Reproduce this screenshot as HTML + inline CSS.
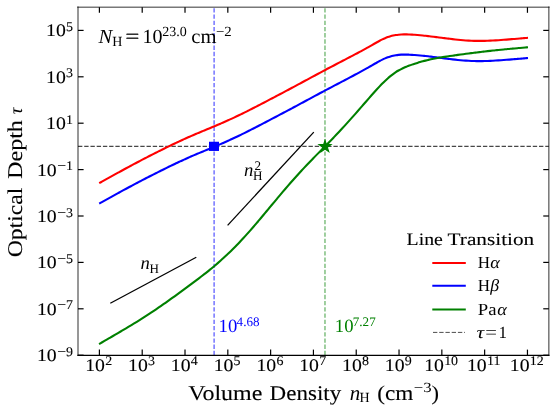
<!DOCTYPE html>
<html><head><meta charset="utf-8"><title>Optical depth</title>
<style>
html,body{margin:0;padding:0;background:#fff;}
body{width:556px;height:413px;overflow:hidden;font-family:"Liberation Serif",serif;}
svg{display:block;position:absolute;left:0;top:0;will-change:transform;text-rendering:geometricPrecision;}
svg text{font-family:"Liberation Serif",serif;fill:#000;}
</style></head><body>
<svg width="556" height="413" viewBox="0 0 556 413">
<rect width="556" height="413" fill="#fff"/>
<line x1="78.00" y1="146.40" x2="548.85" y2="146.40" stroke="#000" stroke-opacity="0.72" stroke-width="1.25" stroke-dasharray="4.35 1.88"/>
<line x1="214.12" y1="355.20" x2="214.12" y2="7.20" stroke="#0000ff" stroke-opacity="0.55" stroke-width="1.5" stroke-dasharray="4.35 1.88"/>
<line x1="324.98" y1="355.20" x2="324.98" y2="7.20" stroke="#008000" stroke-opacity="0.5" stroke-width="1.5" stroke-dasharray="4.35 1.88"/>
<path d="M99.20 183.16 C99.65 182.91 101.00 182.16 101.90 181.66 C102.80 181.16 103.69 180.66 104.59 180.16 C105.49 179.66 106.39 179.16 107.29 178.66 C108.19 178.16 109.09 177.66 109.99 177.16 C110.89 176.67 111.79 176.17 112.68 175.67 C113.58 175.17 114.48 174.68 115.38 174.18 C116.28 173.69 117.18 173.19 118.08 172.70 C118.98 172.21 119.88 171.71 120.77 171.22 C121.67 170.73 122.57 170.24 123.47 169.75 C124.37 169.26 125.27 168.77 126.17 168.29 C127.07 167.80 127.97 167.31 128.87 166.83 C129.76 166.35 130.66 165.86 131.56 165.38 C132.46 164.90 133.36 164.42 134.26 163.94 C135.16 163.46 136.06 162.99 136.96 162.51 C137.85 162.04 138.75 161.56 139.65 161.09 C140.55 160.62 141.45 160.15 142.35 159.68 C143.25 159.21 144.15 158.74 145.05 158.27 C145.95 157.81 146.84 157.34 147.74 156.88 C148.64 156.42 149.54 155.96 150.44 155.50 C151.34 155.04 152.24 154.58 153.14 154.13 C154.04 153.67 154.94 153.22 155.83 152.77 C156.73 152.31 157.63 151.86 158.53 151.42 C159.43 150.97 160.33 150.52 161.23 150.07 C162.13 149.63 163.03 149.18 163.92 148.74 C164.82 148.30 165.72 147.86 166.62 147.42 C167.52 146.98 168.42 146.54 169.32 146.11 C170.22 145.67 171.12 145.24 172.02 144.80 C172.91 144.37 173.81 143.94 174.71 143.51 C175.61 143.08 176.51 142.66 177.41 142.23 C178.31 141.81 179.21 141.39 180.11 140.97 C181.00 140.55 181.90 140.14 182.80 139.73 C183.70 139.31 184.60 138.91 185.50 138.50 C186.40 138.09 187.30 137.69 188.20 137.29 C189.10 136.90 189.99 136.50 190.89 136.11 C191.79 135.72 192.69 135.33 193.59 134.95 C194.49 134.56 195.39 134.18 196.29 133.80 C197.19 133.43 198.08 133.05 198.98 132.67 C199.88 132.30 200.78 131.93 201.68 131.55 C202.58 131.18 203.48 130.81 204.38 130.44 C205.28 130.07 206.18 129.70 207.07 129.33 C207.97 128.96 208.87 128.58 209.77 128.21 C210.67 127.84 211.57 127.47 212.47 127.09 C213.37 126.71 214.27 126.34 215.16 125.96 C216.06 125.58 216.96 125.20 217.86 124.81 C218.76 124.43 219.66 124.04 220.56 123.65 C221.46 123.26 222.36 122.87 223.26 122.48 C224.15 122.08 225.05 121.68 225.95 121.28 C226.85 120.88 227.75 120.48 228.65 120.07 C229.55 119.66 230.45 119.26 231.35 118.84 C232.24 118.43 233.14 118.01 234.04 117.59 C234.94 117.17 235.84 116.75 236.74 116.32 C237.64 115.89 238.54 115.46 239.44 115.03 C240.34 114.59 241.23 114.15 242.13 113.71 C243.03 113.27 243.93 112.83 244.83 112.38 C245.73 111.94 246.63 111.49 247.53 111.04 C248.43 110.59 249.32 110.13 250.22 109.68 C251.12 109.22 252.02 108.76 252.92 108.30 C253.82 107.84 254.72 107.38 255.62 106.92 C256.52 106.46 257.42 105.99 258.31 105.53 C259.21 105.06 260.11 104.60 261.01 104.13 C261.91 103.66 262.81 103.19 263.71 102.72 C264.61 102.25 265.51 101.78 266.41 101.31 C267.30 100.84 268.20 100.37 269.10 99.90 C270.00 99.43 270.90 98.95 271.80 98.48 C272.70 98.01 273.60 97.54 274.50 97.07 C275.39 96.60 276.29 96.12 277.19 95.65 C278.09 95.18 278.99 94.71 279.89 94.23 C280.79 93.76 281.69 93.29 282.59 92.81 C283.49 92.34 284.38 91.86 285.28 91.39 C286.18 90.91 287.08 90.44 287.98 89.96 C288.88 89.48 289.78 89.00 290.68 88.52 C291.58 88.04 292.47 87.56 293.37 87.08 C294.27 86.60 295.17 86.12 296.07 85.63 C296.97 85.15 297.87 84.67 298.77 84.18 C299.67 83.70 300.57 83.21 301.46 82.73 C302.36 82.24 303.26 81.76 304.16 81.27 C305.06 80.79 305.96 80.30 306.86 79.82 C307.76 79.33 308.66 78.84 309.55 78.36 C310.45 77.87 311.35 77.39 312.25 76.91 C313.15 76.42 314.05 75.94 314.95 75.46 C315.85 74.97 316.75 74.49 317.65 74.01 C318.54 73.53 319.44 73.05 320.34 72.57 C321.24 72.09 322.14 71.61 323.04 71.14 C323.94 70.66 324.84 70.18 325.74 69.71 C326.63 69.23 327.53 68.76 328.43 68.29 C329.33 67.81 330.23 67.34 331.13 66.87 C332.03 66.40 332.93 65.93 333.83 65.46 C334.73 64.99 335.62 64.52 336.52 64.05 C337.42 63.59 338.32 63.12 339.22 62.65 C340.12 62.18 341.02 61.71 341.92 61.25 C342.82 60.78 343.71 60.31 344.61 59.84 C345.51 59.37 346.41 58.91 347.31 58.44 C348.21 57.97 349.11 57.50 350.01 57.03 C350.91 56.56 351.81 56.08 352.70 55.61 C353.60 55.14 354.50 54.66 355.40 54.19 C356.30 53.71 357.20 53.23 358.10 52.75 C359.00 52.27 359.90 51.79 360.79 51.30 C361.69 50.82 362.59 50.33 363.49 49.84 C364.39 49.35 365.29 48.85 366.19 48.35 C367.09 47.86 367.99 47.35 368.89 46.85 C369.78 46.34 370.68 45.83 371.58 45.32 C372.48 44.80 373.38 44.28 374.28 43.77 C375.18 43.26 376.08 42.75 376.98 42.25 C377.88 41.75 378.77 41.26 379.67 40.78 C380.57 40.31 381.47 39.84 382.37 39.40 C383.27 38.97 384.17 38.55 385.07 38.17 C385.97 37.78 386.86 37.42 387.76 37.10 C388.66 36.77 389.56 36.48 390.46 36.22 C391.36 35.95 392.26 35.72 393.16 35.52 C394.06 35.33 394.96 35.16 395.85 35.02 C396.75 34.88 397.65 34.77 398.55 34.68 C399.45 34.59 400.35 34.52 401.25 34.48 C402.15 34.43 403.05 34.41 403.94 34.40 C404.84 34.38 405.74 34.39 406.64 34.41 C407.54 34.43 408.44 34.46 409.34 34.49 C410.24 34.53 411.14 34.58 412.04 34.64 C412.93 34.69 413.83 34.76 414.73 34.82 C415.63 34.89 416.53 34.96 417.43 35.04 C418.33 35.12 419.23 35.20 420.13 35.29 C421.02 35.37 421.92 35.46 422.82 35.55 C423.72 35.64 424.62 35.74 425.52 35.83 C426.42 35.93 427.32 36.03 428.22 36.13 C429.12 36.23 430.01 36.34 430.91 36.45 C431.81 36.55 432.71 36.66 433.61 36.77 C434.51 36.88 435.41 36.99 436.31 37.11 C437.21 37.22 438.10 37.34 439.00 37.45 C439.90 37.56 440.80 37.68 441.70 37.80 C442.60 37.91 443.50 38.03 444.40 38.14 C445.30 38.26 446.20 38.37 447.09 38.49 C447.99 38.60 448.89 38.71 449.79 38.82 C450.69 38.93 451.59 39.04 452.49 39.15 C453.39 39.25 454.29 39.35 455.18 39.45 C456.08 39.55 456.98 39.65 457.88 39.74 C458.78 39.83 459.68 39.92 460.58 40.00 C461.48 40.08 462.38 40.16 463.28 40.24 C464.17 40.31 465.07 40.38 465.97 40.44 C466.87 40.50 467.77 40.56 468.67 40.61 C469.57 40.66 470.47 40.70 471.37 40.74 C472.26 40.78 473.16 40.81 474.06 40.84 C474.96 40.86 475.86 40.88 476.76 40.89 C477.66 40.91 478.56 40.91 479.46 40.91 C480.36 40.91 481.25 40.91 482.15 40.89 C483.05 40.88 483.95 40.87 484.85 40.84 C485.75 40.82 486.65 40.79 487.55 40.76 C488.45 40.73 489.35 40.69 490.24 40.65 C491.14 40.61 492.04 40.56 492.94 40.51 C493.84 40.46 494.74 40.41 495.64 40.36 C496.54 40.30 497.44 40.24 498.33 40.18 C499.23 40.12 500.13 40.06 501.03 40.00 C501.93 39.93 502.83 39.86 503.73 39.80 C504.63 39.73 505.53 39.66 506.43 39.59 C507.32 39.52 508.22 39.45 509.12 39.38 C510.02 39.30 510.92 39.23 511.82 39.16 C512.72 39.09 513.62 39.01 514.52 38.94 C515.41 38.87 516.31 38.79 517.21 38.72 C518.11 38.64 519.01 38.57 519.91 38.50 C520.81 38.42 521.71 38.35 522.61 38.27 C523.51 38.20 524.40 38.12 525.30 38.05 C526.20 37.97 527.55 37.86 528.00 37.82" fill="none" stroke="#ff0000" stroke-width="2.1" stroke-linecap="butt" stroke-linejoin="round"/>
<path d="M99.20 203.61 C99.65 203.36 101.00 202.61 101.90 202.11 C102.80 201.61 103.69 201.11 104.59 200.61 C105.49 200.11 106.39 199.61 107.29 199.11 C108.19 198.61 109.09 198.11 109.99 197.61 C110.89 197.12 111.79 196.62 112.68 196.12 C113.58 195.62 114.48 195.13 115.38 194.63 C116.28 194.14 117.18 193.64 118.08 193.15 C118.98 192.66 119.88 192.16 120.77 191.67 C121.67 191.18 122.57 190.69 123.47 190.20 C124.37 189.71 125.27 189.22 126.17 188.74 C127.07 188.25 127.97 187.76 128.87 187.28 C129.76 186.80 130.66 186.31 131.56 185.83 C132.46 185.35 133.36 184.87 134.26 184.39 C135.16 183.91 136.06 183.44 136.96 182.96 C137.85 182.49 138.75 182.01 139.65 181.54 C140.55 181.07 141.45 180.60 142.35 180.13 C143.25 179.66 144.15 179.19 145.05 178.72 C145.95 178.26 146.84 177.79 147.74 177.33 C148.64 176.87 149.54 176.41 150.44 175.95 C151.34 175.49 152.24 175.03 153.14 174.58 C154.04 174.12 154.94 173.67 155.83 173.22 C156.73 172.76 157.63 172.31 158.53 171.87 C159.43 171.42 160.33 170.97 161.23 170.52 C162.13 170.08 163.03 169.63 163.92 169.19 C164.82 168.75 165.72 168.31 166.62 167.87 C167.52 167.43 168.42 166.99 169.32 166.56 C170.22 166.12 171.12 165.69 172.02 165.25 C172.91 164.82 173.81 164.39 174.71 163.96 C175.61 163.53 176.51 163.11 177.41 162.68 C178.31 162.26 179.21 161.84 180.11 161.42 C181.00 161.00 181.90 160.59 182.80 160.18 C183.70 159.76 184.60 159.36 185.50 158.95 C186.40 158.54 187.30 158.14 188.20 157.74 C189.10 157.35 189.99 156.95 190.89 156.56 C191.79 156.17 192.69 155.78 193.59 155.40 C194.49 155.01 195.39 154.63 196.29 154.25 C197.19 153.88 198.08 153.50 198.98 153.12 C199.88 152.75 200.78 152.38 201.68 152.00 C202.58 151.63 203.48 151.26 204.38 150.89 C205.28 150.52 206.18 150.15 207.07 149.78 C207.97 149.41 208.87 149.03 209.77 148.66 C210.67 148.29 211.57 147.92 212.47 147.54 C213.37 147.16 214.27 146.79 215.16 146.41 C216.06 146.03 216.96 145.65 217.86 145.26 C218.76 144.88 219.66 144.49 220.56 144.10 C221.46 143.71 222.36 143.32 223.26 142.93 C224.15 142.53 225.05 142.13 225.95 141.73 C226.85 141.33 227.75 140.93 228.65 140.52 C229.55 140.11 230.45 139.71 231.35 139.29 C232.24 138.88 233.14 138.46 234.04 138.04 C234.94 137.62 235.84 137.20 236.74 136.77 C237.64 136.34 238.54 135.91 239.44 135.48 C240.34 135.04 241.23 134.60 242.13 134.16 C243.03 133.72 243.93 133.28 244.83 132.83 C245.73 132.39 246.63 131.94 247.53 131.49 C248.43 131.04 249.32 130.58 250.22 130.13 C251.12 129.67 252.02 129.21 252.92 128.75 C253.82 128.29 254.72 127.83 255.62 127.37 C256.52 126.91 257.42 126.44 258.31 125.98 C259.21 125.51 260.11 125.05 261.01 124.58 C261.91 124.11 262.81 123.64 263.71 123.17 C264.61 122.70 265.51 122.23 266.41 121.76 C267.30 121.29 268.20 120.82 269.10 120.35 C270.00 119.88 270.90 119.40 271.80 118.93 C272.70 118.46 273.60 117.99 274.50 117.52 C275.39 117.05 276.29 116.57 277.19 116.10 C278.09 115.63 278.99 115.16 279.89 114.68 C280.79 114.21 281.69 113.74 282.59 113.26 C283.49 112.79 284.38 112.31 285.28 111.84 C286.18 111.36 287.08 110.89 287.98 110.41 C288.88 109.93 289.78 109.45 290.68 108.97 C291.58 108.50 292.47 108.01 293.37 107.53 C294.27 107.05 295.17 106.57 296.07 106.09 C296.97 105.60 297.87 105.12 298.77 104.64 C299.67 104.15 300.57 103.67 301.46 103.18 C302.36 102.70 303.26 102.21 304.16 101.73 C305.06 101.24 305.96 100.76 306.86 100.27 C307.76 99.79 308.66 99.30 309.55 98.82 C310.45 98.33 311.35 97.85 312.25 97.36 C313.15 96.88 314.05 96.39 314.95 95.91 C315.85 95.43 316.75 94.95 317.65 94.47 C318.54 93.99 319.44 93.51 320.34 93.03 C321.24 92.55 322.14 92.07 323.04 91.59 C323.94 91.11 324.84 90.64 325.74 90.16 C326.63 89.69 327.53 89.21 328.43 88.74 C329.33 88.26 330.23 87.79 331.13 87.32 C332.03 86.85 332.93 86.38 333.83 85.90 C334.73 85.43 335.62 84.96 336.52 84.49 C337.42 84.02 338.32 83.55 339.22 83.08 C340.12 82.61 341.02 82.14 341.92 81.67 C342.82 81.19 343.71 80.72 344.61 80.25 C345.51 79.78 346.41 79.31 347.31 78.83 C348.21 78.36 349.11 77.88 350.01 77.41 C350.91 76.93 351.81 76.46 352.70 75.98 C353.60 75.50 354.50 75.02 355.40 74.54 C356.30 74.05 357.20 73.57 358.10 73.08 C359.00 72.60 359.90 72.11 360.79 71.62 C361.69 71.13 362.59 70.64 363.49 70.14 C364.39 69.64 365.29 69.14 366.19 68.64 C367.09 68.13 367.99 67.63 368.89 67.11 C369.78 66.60 370.68 66.08 371.58 65.57 C372.48 65.05 373.38 64.53 374.28 64.01 C375.18 63.50 376.08 62.98 376.98 62.48 C377.88 61.97 378.77 61.47 379.67 61.00 C380.57 60.52 381.47 60.05 382.37 59.61 C383.27 59.17 384.17 58.75 385.07 58.37 C385.97 57.98 386.86 57.62 387.76 57.30 C388.66 56.97 389.56 56.68 390.46 56.41 C391.36 56.15 392.26 55.92 393.16 55.72 C394.06 55.52 394.96 55.36 395.85 55.22 C396.75 55.07 397.65 54.96 398.55 54.87 C399.45 54.78 400.35 54.72 401.25 54.67 C402.15 54.63 403.05 54.61 403.94 54.59 C404.84 54.58 405.74 54.59 406.64 54.61 C407.54 54.63 408.44 54.66 409.34 54.69 C410.24 54.73 411.14 54.78 412.04 54.84 C412.93 54.89 413.83 54.96 414.73 55.02 C415.63 55.09 416.53 55.16 417.43 55.24 C418.33 55.32 419.23 55.40 420.13 55.49 C421.02 55.57 421.92 55.66 422.82 55.75 C423.72 55.84 424.62 55.94 425.52 56.03 C426.42 56.13 427.32 56.23 428.22 56.33 C429.12 56.43 430.01 56.54 430.91 56.65 C431.81 56.75 432.71 56.86 433.61 56.97 C434.51 57.08 435.41 57.19 436.31 57.31 C437.21 57.42 438.10 57.54 439.00 57.65 C439.90 57.76 440.80 57.88 441.70 58.00 C442.60 58.11 443.50 58.23 444.40 58.34 C445.30 58.46 446.20 58.57 447.09 58.69 C447.99 58.80 448.89 58.91 449.79 59.02 C450.69 59.13 451.59 59.24 452.49 59.35 C453.39 59.45 454.29 59.55 455.18 59.65 C456.08 59.75 456.98 59.85 457.88 59.94 C458.78 60.03 459.68 60.12 460.58 60.20 C461.48 60.28 462.38 60.36 463.28 60.44 C464.17 60.51 465.07 60.58 465.97 60.64 C466.87 60.70 467.77 60.76 468.67 60.81 C469.57 60.86 470.47 60.90 471.37 60.94 C472.26 60.98 473.16 61.01 474.06 61.04 C474.96 61.06 475.86 61.08 476.76 61.09 C477.66 61.11 478.56 61.11 479.46 61.11 C480.36 61.11 481.25 61.11 482.15 61.09 C483.05 61.08 483.95 61.07 484.85 61.04 C485.75 61.02 486.65 60.99 487.55 60.96 C488.45 60.93 489.35 60.89 490.24 60.85 C491.14 60.81 492.04 60.76 492.94 60.71 C493.84 60.66 494.74 60.61 495.64 60.56 C496.54 60.50 497.44 60.44 498.33 60.38 C499.23 60.32 500.13 60.26 501.03 60.20 C501.93 60.13 502.83 60.06 503.73 60.00 C504.63 59.93 505.53 59.86 506.43 59.79 C507.32 59.72 508.22 59.65 509.12 59.58 C510.02 59.50 510.92 59.43 511.82 59.36 C512.72 59.29 513.62 59.21 514.52 59.14 C515.41 59.07 516.31 58.99 517.21 58.92 C518.11 58.84 519.01 58.77 519.91 58.70 C520.81 58.62 521.71 58.55 522.61 58.47 C523.51 58.40 524.40 58.32 525.30 58.25 C526.20 58.17 527.55 58.06 528.00 58.02" fill="none" stroke="#0000ff" stroke-width="2.1" stroke-linecap="butt" stroke-linejoin="round"/>
<path d="M99.07 344.04 C99.52 343.78 100.87 343.01 101.77 342.49 C102.67 341.97 103.57 341.45 104.47 340.93 C105.36 340.41 106.26 339.89 107.16 339.37 C108.06 338.85 108.96 338.33 109.86 337.81 C110.76 337.29 111.66 336.77 112.56 336.24 C113.46 335.72 114.36 335.20 115.26 334.67 C116.16 334.15 117.05 333.62 117.95 333.10 C118.85 332.57 119.75 332.04 120.65 331.51 C121.55 330.98 122.45 330.45 123.35 329.92 C124.25 329.39 125.15 328.85 126.05 328.32 C126.95 327.78 127.85 327.24 128.74 326.70 C129.64 326.16 130.54 325.62 131.44 325.07 C132.34 324.53 133.24 323.98 134.14 323.43 C135.04 322.88 135.94 322.32 136.84 321.77 C137.74 321.21 138.64 320.65 139.54 320.09 C140.43 319.52 141.33 318.95 142.23 318.38 C143.13 317.81 144.03 317.24 144.93 316.66 C145.83 316.08 146.73 315.50 147.63 314.91 C148.53 314.33 149.43 313.74 150.33 313.14 C151.23 312.55 152.12 311.95 153.02 311.35 C153.92 310.75 154.82 310.15 155.72 309.54 C156.62 308.93 157.52 308.32 158.42 307.70 C159.32 307.08 160.22 306.46 161.12 305.84 C162.02 305.22 162.91 304.59 163.81 303.96 C164.71 303.33 165.61 302.70 166.51 302.07 C167.41 301.43 168.31 300.79 169.21 300.15 C170.11 299.51 171.01 298.87 171.91 298.22 C172.81 297.58 173.71 296.93 174.60 296.28 C175.50 295.63 176.40 294.98 177.30 294.32 C178.20 293.67 179.10 293.01 180.00 292.35 C180.90 291.70 181.80 291.04 182.70 290.37 C183.60 289.71 184.50 289.05 185.40 288.39 C186.29 287.72 187.19 287.06 188.09 286.39 C188.99 285.72 189.89 285.06 190.79 284.39 C191.69 283.72 192.59 283.05 193.49 282.37 C194.39 281.70 195.29 281.03 196.19 280.35 C197.09 279.67 197.98 278.99 198.88 278.31 C199.78 277.63 200.68 276.94 201.58 276.25 C202.48 275.56 203.38 274.87 204.28 274.17 C205.18 273.48 206.08 272.77 206.98 272.06 C207.88 271.35 208.78 270.64 209.67 269.91 C210.57 269.19 211.47 268.46 212.37 267.71 C213.27 266.97 214.17 266.22 215.07 265.46 C215.97 264.70 216.87 263.93 217.77 263.15 C218.67 262.37 219.57 261.58 220.47 260.78 C221.36 259.98 222.26 259.17 223.16 258.34 C224.06 257.52 224.96 256.69 225.86 255.85 C226.76 255.01 227.66 254.15 228.56 253.29 C229.46 252.43 230.36 251.55 231.26 250.67 C232.16 249.78 233.05 248.89 233.95 247.98 C234.85 247.08 235.75 246.16 236.65 245.23 C237.55 244.31 238.45 243.37 239.35 242.42 C240.25 241.47 241.15 240.51 242.05 239.55 C242.95 238.58 243.85 237.60 244.74 236.62 C245.64 235.63 246.54 234.63 247.44 233.63 C248.34 232.62 249.24 231.61 250.14 230.59 C251.04 229.57 251.94 228.54 252.84 227.50 C253.74 226.46 254.64 225.41 255.54 224.36 C256.43 223.31 257.33 222.25 258.23 221.19 C259.13 220.12 260.03 219.05 260.93 217.98 C261.83 216.91 262.73 215.84 263.63 214.76 C264.53 213.68 265.43 212.60 266.33 211.52 C267.22 210.44 268.12 209.36 269.02 208.28 C269.92 207.20 270.82 206.11 271.72 205.03 C272.62 203.95 273.52 202.87 274.42 201.80 C275.32 200.72 276.22 199.64 277.12 198.57 C278.02 197.50 278.91 196.42 279.81 195.36 C280.71 194.29 281.61 193.23 282.51 192.17 C283.41 191.11 284.31 190.05 285.21 189.01 C286.11 187.96 287.01 186.91 287.91 185.88 C288.81 184.84 289.71 183.81 290.60 182.78 C291.50 181.76 292.40 180.74 293.30 179.73 C294.20 178.71 295.10 177.71 296.00 176.71 C296.90 175.71 297.80 174.71 298.70 173.73 C299.60 172.74 300.50 171.76 301.40 170.78 C302.29 169.81 303.19 168.84 304.09 167.88 C304.99 166.92 305.89 165.97 306.79 165.02 C307.69 164.07 308.59 163.13 309.49 162.20 C310.39 161.26 311.29 160.33 312.19 159.40 C313.09 158.48 313.98 157.55 314.88 156.63 C315.78 155.71 316.68 154.79 317.58 153.88 C318.48 152.96 319.38 152.05 320.28 151.14 C321.18 150.22 322.08 149.31 322.98 148.40 C323.88 147.49 324.78 146.58 325.67 145.67 C326.57 144.75 327.47 143.84 328.37 142.92 C329.27 142.01 330.17 141.09 331.07 140.16 C331.97 139.24 332.87 138.31 333.77 137.38 C334.67 136.44 335.57 135.50 336.47 134.56 C337.36 133.61 338.26 132.66 339.16 131.70 C340.06 130.74 340.96 129.78 341.86 128.80 C342.76 127.83 343.66 126.86 344.56 125.87 C345.46 124.89 346.36 123.90 347.26 122.90 C348.16 121.91 349.05 120.91 349.95 119.90 C350.85 118.90 351.75 117.89 352.65 116.88 C353.55 115.86 354.45 114.84 355.35 113.82 C356.25 112.80 357.15 111.78 358.05 110.75 C358.95 109.72 359.85 108.69 360.74 107.66 C361.64 106.62 362.54 105.59 363.44 104.55 C364.34 103.51 365.24 102.47 366.14 101.44 C367.04 100.40 367.94 99.36 368.84 98.33 C369.74 97.30 370.64 96.27 371.53 95.25 C372.43 94.23 373.33 93.21 374.23 92.21 C375.13 91.21 376.03 90.22 376.93 89.24 C377.83 88.27 378.73 87.31 379.63 86.36 C380.53 85.42 381.43 84.49 382.33 83.59 C383.22 82.69 384.12 81.80 385.02 80.95 C385.92 80.09 386.82 79.26 387.72 78.46 C388.62 77.66 389.52 76.88 390.42 76.15 C391.32 75.42 392.22 74.72 393.12 74.05 C394.02 73.39 394.91 72.77 395.81 72.18 C396.71 71.59 397.61 71.05 398.51 70.53 C399.41 70.01 400.31 69.53 401.21 69.07 C402.11 68.61 403.01 68.19 403.91 67.78 C404.81 67.37 405.71 67.00 406.60 66.63 C407.50 66.27 408.40 65.92 409.30 65.59 C410.20 65.26 411.10 64.94 412.00 64.63 C412.90 64.32 413.80 64.02 414.70 63.73 C415.60 63.44 416.50 63.16 417.40 62.88 C418.29 62.61 419.19 62.34 420.09 62.09 C420.99 61.83 421.89 61.57 422.79 61.33 C423.69 61.08 424.59 60.84 425.49 60.62 C426.39 60.39 427.29 60.16 428.19 59.95 C429.09 59.74 429.98 59.53 430.88 59.34 C431.78 59.14 432.68 58.95 433.58 58.77 C434.48 58.59 435.38 58.42 436.28 58.25 C437.18 58.08 438.08 57.92 438.98 57.76 C439.88 57.61 440.78 57.46 441.67 57.31 C442.57 57.16 443.47 57.02 444.37 56.88 C445.27 56.73 446.17 56.60 447.07 56.46 C447.97 56.33 448.87 56.19 449.77 56.06 C450.67 55.93 451.57 55.80 452.47 55.67 C453.36 55.54 454.26 55.41 455.16 55.29 C456.06 55.16 456.96 55.04 457.86 54.91 C458.76 54.79 459.66 54.67 460.56 54.54 C461.46 54.42 462.36 54.30 463.26 54.18 C464.16 54.06 465.05 53.94 465.95 53.82 C466.85 53.70 467.75 53.58 468.65 53.46 C469.55 53.35 470.45 53.23 471.35 53.11 C472.25 53.00 473.15 52.88 474.05 52.77 C474.95 52.66 475.84 52.54 476.74 52.43 C477.64 52.32 478.54 52.21 479.44 52.10 C480.34 51.99 481.24 51.89 482.14 51.78 C483.04 51.67 483.94 51.57 484.84 51.46 C485.74 51.36 486.64 51.26 487.53 51.16 C488.43 51.06 489.33 50.96 490.23 50.86 C491.13 50.76 492.03 50.66 492.93 50.56 C493.83 50.47 494.73 50.37 495.63 50.28 C496.53 50.18 497.43 50.09 498.33 49.99 C499.22 49.90 500.12 49.81 501.02 49.72 C501.92 49.63 502.82 49.54 503.72 49.45 C504.62 49.36 505.52 49.28 506.42 49.19 C507.32 49.10 508.22 49.02 509.12 48.93 C510.02 48.85 510.91 48.76 511.81 48.68 C512.71 48.60 513.61 48.52 514.51 48.43 C515.41 48.35 516.31 48.27 517.21 48.19 C518.11 48.11 519.01 48.03 519.91 47.95 C520.81 47.87 521.71 47.79 522.60 47.72 C523.50 47.64 524.40 47.56 525.30 47.48 C526.20 47.40 527.55 47.29 528.00 47.25" fill="none" stroke="#008000" stroke-width="2.1" stroke-linecap="butt" stroke-linejoin="round"/>
<line x1="110.30" y1="303.20" x2="196.30" y2="257.30" stroke="#000" stroke-width="1.3"/>
<line x1="227.60" y1="225.40" x2="313.80" y2="132.10" stroke="#000" stroke-width="1.3"/>
<rect x="209.0" y="141.75" width="10.0" height="9.2" fill="#0000ff"/>
<polygon points="325.03,140.30 326.47,144.62 331.02,144.65 327.36,147.36 328.74,151.70 325.03,149.05 321.33,151.70 322.70,147.36 319.04,144.65 323.59,144.62" fill="#008000" stroke="#008000" stroke-width="1.1" stroke-linejoin="miter"/>
<line x1="78.00" y1="6.42" x2="78.00" y2="355.20" stroke="#000" stroke-opacity="0.53" stroke-width="1.55"/>
<line x1="548.80" y1="6.42" x2="548.80" y2="355.20" stroke="#000" stroke-opacity="0.53" stroke-width="1.55"/>
<line x1="77.22" y1="7.20" x2="549.58" y2="7.20" stroke="#000" stroke-opacity="0.53" stroke-width="1.55"/>
<line x1="77.25" y1="355.30" x2="549.60" y2="355.30" stroke="#000" stroke-width="1.2"/>
<line x1="99.40" y1="355.20" x2="99.40" y2="349.60" stroke="#000" stroke-width="1.2"/>
<line x1="99.40" y1="7.20" x2="99.40" y2="12.80" stroke="#000" stroke-width="1.2"/>
<line x1="142.21" y1="355.20" x2="142.21" y2="349.60" stroke="#000" stroke-width="1.2"/>
<line x1="142.21" y1="7.20" x2="142.21" y2="12.80" stroke="#000" stroke-width="1.2"/>
<line x1="185.01" y1="355.20" x2="185.01" y2="349.60" stroke="#000" stroke-width="1.2"/>
<line x1="185.01" y1="7.20" x2="185.01" y2="12.80" stroke="#000" stroke-width="1.2"/>
<line x1="227.82" y1="355.20" x2="227.82" y2="349.60" stroke="#000" stroke-width="1.2"/>
<line x1="227.82" y1="7.20" x2="227.82" y2="12.80" stroke="#000" stroke-width="1.2"/>
<line x1="270.62" y1="355.20" x2="270.62" y2="349.60" stroke="#000" stroke-width="1.2"/>
<line x1="270.62" y1="7.20" x2="270.62" y2="12.80" stroke="#000" stroke-width="1.2"/>
<line x1="313.43" y1="355.20" x2="313.43" y2="349.60" stroke="#000" stroke-width="1.2"/>
<line x1="313.43" y1="7.20" x2="313.43" y2="12.80" stroke="#000" stroke-width="1.2"/>
<line x1="356.23" y1="355.20" x2="356.23" y2="349.60" stroke="#000" stroke-width="1.2"/>
<line x1="356.23" y1="7.20" x2="356.23" y2="12.80" stroke="#000" stroke-width="1.2"/>
<line x1="399.03" y1="355.20" x2="399.03" y2="349.60" stroke="#000" stroke-width="1.2"/>
<line x1="399.03" y1="7.20" x2="399.03" y2="12.80" stroke="#000" stroke-width="1.2"/>
<line x1="441.84" y1="355.20" x2="441.84" y2="349.60" stroke="#000" stroke-width="1.2"/>
<line x1="441.84" y1="7.20" x2="441.84" y2="12.80" stroke="#000" stroke-width="1.2"/>
<line x1="484.64" y1="355.20" x2="484.64" y2="349.60" stroke="#000" stroke-width="1.2"/>
<line x1="484.64" y1="7.20" x2="484.64" y2="12.80" stroke="#000" stroke-width="1.2"/>
<line x1="527.45" y1="355.20" x2="527.45" y2="349.60" stroke="#000" stroke-width="1.2"/>
<line x1="527.45" y1="7.20" x2="527.45" y2="12.80" stroke="#000" stroke-width="1.2"/>
<line x1="78.00" y1="355.20" x2="83.60" y2="355.20" stroke="#000" stroke-width="1.2"/>
<line x1="548.85" y1="355.20" x2="543.25" y2="355.20" stroke="#000" stroke-width="1.2"/>
<line x1="78.00" y1="308.80" x2="83.60" y2="308.80" stroke="#000" stroke-width="1.2"/>
<line x1="548.85" y1="308.80" x2="543.25" y2="308.80" stroke="#000" stroke-width="1.2"/>
<line x1="78.00" y1="262.40" x2="83.60" y2="262.40" stroke="#000" stroke-width="1.2"/>
<line x1="548.85" y1="262.40" x2="543.25" y2="262.40" stroke="#000" stroke-width="1.2"/>
<line x1="78.00" y1="216.00" x2="83.60" y2="216.00" stroke="#000" stroke-width="1.2"/>
<line x1="548.85" y1="216.00" x2="543.25" y2="216.00" stroke="#000" stroke-width="1.2"/>
<line x1="78.00" y1="169.60" x2="83.60" y2="169.60" stroke="#000" stroke-width="1.2"/>
<line x1="548.85" y1="169.60" x2="543.25" y2="169.60" stroke="#000" stroke-width="1.2"/>
<line x1="78.00" y1="123.20" x2="83.60" y2="123.20" stroke="#000" stroke-width="1.2"/>
<line x1="548.85" y1="123.20" x2="543.25" y2="123.20" stroke="#000" stroke-width="1.2"/>
<line x1="78.00" y1="76.80" x2="83.60" y2="76.80" stroke="#000" stroke-width="1.2"/>
<line x1="548.85" y1="76.80" x2="543.25" y2="76.80" stroke="#000" stroke-width="1.2"/>
<line x1="78.00" y1="30.40" x2="83.60" y2="30.40" stroke="#000" stroke-width="1.2"/>
<line x1="548.85" y1="30.40" x2="543.25" y2="30.40" stroke="#000" stroke-width="1.2"/>
<text transform="translate(85.23 370.60) scale(1.110 1.000)" font-size="17.80" stroke="#000" stroke-width="0.10">10</text><text transform="translate(105.19 365.10) scale(1.050 1.000)" font-size="13.30" stroke="#000" stroke-width="0.10">2</text>
<text transform="translate(128.04 370.60) scale(1.110 1.000)" font-size="17.80" stroke="#000" stroke-width="0.10">10</text><text transform="translate(147.99 365.10) scale(1.050 1.000)" font-size="13.30" stroke="#000" stroke-width="0.10">3</text>
<text transform="translate(170.84 370.60) scale(1.110 1.000)" font-size="17.80" stroke="#000" stroke-width="0.10">10</text><text transform="translate(190.80 365.10) scale(1.050 1.000)" font-size="13.30" stroke="#000" stroke-width="0.10">4</text>
<text transform="translate(213.65 370.60) scale(1.110 1.000)" font-size="17.80" stroke="#000" stroke-width="0.10">10</text><text transform="translate(233.60 365.10) scale(1.050 1.000)" font-size="13.30" stroke="#000" stroke-width="0.10">5</text>
<text transform="translate(256.45 370.60) scale(1.110 1.000)" font-size="17.80" stroke="#000" stroke-width="0.10">10</text><text transform="translate(276.41 365.10) scale(1.050 1.000)" font-size="13.30" stroke="#000" stroke-width="0.10">6</text>
<text transform="translate(299.25 370.60) scale(1.110 1.000)" font-size="17.80" stroke="#000" stroke-width="0.10">10</text><text transform="translate(319.21 365.10) scale(1.050 1.000)" font-size="13.30" stroke="#000" stroke-width="0.10">7</text>
<text transform="translate(342.06 370.60) scale(1.110 1.000)" font-size="17.80" stroke="#000" stroke-width="0.10">10</text><text transform="translate(362.02 365.10) scale(1.050 1.000)" font-size="13.30" stroke="#000" stroke-width="0.10">8</text>
<text transform="translate(384.86 370.60) scale(1.110 1.000)" font-size="17.80" stroke="#000" stroke-width="0.10">10</text><text transform="translate(404.82 365.10) scale(1.050 1.000)" font-size="13.30" stroke="#000" stroke-width="0.10">9</text>
<text transform="translate(424.18 370.60) scale(1.110 1.000)" font-size="17.80" stroke="#000" stroke-width="0.10">10</text><text transform="translate(444.14 365.10) scale(1.050 1.000)" font-size="13.30" stroke="#000" stroke-width="0.10">10</text>
<text transform="translate(466.98 370.60) scale(1.110 1.000)" font-size="17.80" stroke="#000" stroke-width="0.10">10</text><text transform="translate(486.94 365.10) scale(1.050 1.000)" font-size="13.30" stroke="#000" stroke-width="0.10">11</text>
<text transform="translate(509.79 370.60) scale(1.110 1.000)" font-size="17.80" stroke="#000" stroke-width="0.10">10</text><text transform="translate(529.74 365.10) scale(1.050 1.000)" font-size="13.30" stroke="#000" stroke-width="0.10">12</text>
<text transform="translate(36.91 361.20) scale(1.110 1.000)" font-size="17.80" stroke="#000" stroke-width="0.10">10</text><text transform="translate(57.17 355.70) scale(1.180 1.000)" font-size="13.30" stroke="#000" stroke-width="0.10">−</text><text transform="translate(66.02 355.70) scale(1.050 1.000)" font-size="13.30" stroke="#000" stroke-width="0.10">9</text>
<text transform="translate(36.91 314.80) scale(1.110 1.000)" font-size="17.80" stroke="#000" stroke-width="0.10">10</text><text transform="translate(57.17 309.30) scale(1.180 1.000)" font-size="13.30" stroke="#000" stroke-width="0.10">−</text><text transform="translate(66.02 309.30) scale(1.050 1.000)" font-size="13.30" stroke="#000" stroke-width="0.10">7</text>
<text transform="translate(36.91 268.40) scale(1.110 1.000)" font-size="17.80" stroke="#000" stroke-width="0.10">10</text><text transform="translate(57.17 262.90) scale(1.180 1.000)" font-size="13.30" stroke="#000" stroke-width="0.10">−</text><text transform="translate(66.02 262.90) scale(1.050 1.000)" font-size="13.30" stroke="#000" stroke-width="0.10">5</text>
<text transform="translate(36.91 222.00) scale(1.110 1.000)" font-size="17.80" stroke="#000" stroke-width="0.10">10</text><text transform="translate(57.17 216.50) scale(1.180 1.000)" font-size="13.30" stroke="#000" stroke-width="0.10">−</text><text transform="translate(66.02 216.50) scale(1.050 1.000)" font-size="13.30" stroke="#000" stroke-width="0.10">3</text>
<text transform="translate(36.91 175.60) scale(1.110 1.000)" font-size="17.80" stroke="#000" stroke-width="0.10">10</text><text transform="translate(57.17 170.10) scale(1.180 1.000)" font-size="13.30" stroke="#000" stroke-width="0.10">−</text><text transform="translate(66.02 170.10) scale(1.050 1.000)" font-size="13.30" stroke="#000" stroke-width="0.10">1</text>
<text transform="translate(46.06 129.20) scale(1.110 1.000)" font-size="17.80" stroke="#000" stroke-width="0.10">10</text><text transform="translate(66.02 123.70) scale(1.050 1.000)" font-size="13.30" stroke="#000" stroke-width="0.10">1</text>
<text transform="translate(46.06 82.80) scale(1.110 1.000)" font-size="17.80" stroke="#000" stroke-width="0.10">10</text><text transform="translate(66.02 77.30) scale(1.050 1.000)" font-size="13.30" stroke="#000" stroke-width="0.10">3</text>
<text transform="translate(46.06 36.40) scale(1.110 1.000)" font-size="17.80" stroke="#000" stroke-width="0.10">10</text><text transform="translate(66.02 30.90) scale(1.050 1.000)" font-size="13.30" stroke="#000" stroke-width="0.10">5</text>
<text transform="translate(188.20 400.20) scale(1.143 1.000)" font-size="21.00" stroke="#000" stroke-width="0.10">Volume</text>
<text transform="translate(269.60 400.20) scale(1.096 1.000)" font-size="21.00" stroke="#000" stroke-width="0.10">Density</text>
<text transform="translate(349.80 400.20)" font-size="21.00" font-style="italic">n</text>
<text transform="translate(359.50 402.30)" font-size="14.00">H</text>
<text transform="translate(377.30 400.20) scale(1.105 1.000)" font-size="21.00" stroke="#000" stroke-width="0.10">(cm</text>
<text transform="translate(413.80 392.20) scale(1.200 1.000)" font-size="14.00">−3</text>
<text transform="translate(431.60 400.20) scale(1.070 1.000)" font-size="21.00" stroke="#000" stroke-width="0.10">)</text>
<text transform="translate(22.00 257.30) rotate(-90) scale(1.126 1.000)" font-size="21.00" stroke="#000" stroke-width="0.10">Optical</text>
<text transform="translate(22.00 178.90) rotate(-90) scale(1.145 1.000)" font-size="21.00" stroke="#000" stroke-width="0.10">Depth</text>
<text transform="translate(22.00 114.20) rotate(-90)" font-size="18.70" font-style="italic">τ</text>
<text transform="translate(98.60 43.30) scale(1.030 1.000)" font-size="20.00" font-style="italic">N</text>
<text transform="translate(112.20 45.90)" font-size="14.00">H</text>
<text transform="translate(125.40 43.30) scale(1.220 1.000)" font-size="20.00" stroke="#000" stroke-width="0.35">=</text>
<text transform="translate(142.40 43.30)" font-size="20.00">10</text>
<text transform="translate(162.20 36.10)" font-size="14.00">23.0</text>
<text transform="translate(191.30 43.30) scale(1.030 1.000)" font-size="20.00">cm</text>
<text transform="translate(216.00 36.10) scale(1.060 1.000)" font-size="14.00">−2</text>
<text transform="translate(218.60 332.20)" font-size="18.67" style="fill:#0000ff">10</text>
<text transform="translate(236.60 325.80)" font-size="13.10" style="fill:#0000ff">4.68</text>
<text transform="translate(334.80 332.20)" font-size="18.67" style="fill:#008000">10</text>
<text transform="translate(352.80 325.80)" font-size="13.10" style="fill:#008000">7.27</text>
<text transform="translate(140.60 268.60)" font-size="18.67" font-style="italic">n</text>
<text transform="translate(149.60 272.60)" font-size="13.10">H</text>
<text transform="translate(244.00 176.40)" font-size="18.67" font-style="italic">n</text>
<text transform="translate(253.00 180.40)" font-size="13.10">H</text>
<text transform="translate(254.40 169.90)" font-size="13.10">2</text>
<text transform="translate(406.60 245.30) scale(1.130 1.000)" font-size="17.50" stroke="#000" stroke-width="0.10">Line</text>
<text transform="translate(447.60 245.30) scale(1.215 1.000)" font-size="17.50" stroke="#000" stroke-width="0.10">Transition</text>
<line x1="432.3" y1="262.90" x2="465.8" y2="262.90" stroke="#ff0000" stroke-width="2.0"/>
<line x1="432.3" y1="285.80" x2="465.8" y2="285.80" stroke="#0000ff" stroke-width="2.0"/>
<line x1="432.3" y1="309.40" x2="465.8" y2="309.40" stroke="#008000" stroke-width="2.0"/>
<line x1="433.0" y1="332.4" x2="465.0" y2="332.4" stroke="#000" stroke-opacity="0.7" stroke-width="1.0" stroke-dasharray="4.35 1.88"/>
<text transform="translate(477.80 268.00)" font-size="17.00">H</text>
<text transform="translate(490.30 268.00) scale(1.080 1.000)" font-size="17.00" font-style="italic">α</text>
<text transform="translate(477.80 291.30)" font-size="17.00">H</text>
<text transform="translate(490.30 291.30) scale(1.050 1.000)" font-size="17.00" font-style="italic">β</text>
<text transform="translate(477.80 314.60) scale(1.100 1.000)" font-size="17.00">Pa</text>
<text transform="translate(497.20 314.60) scale(1.080 1.000)" font-size="17.00" font-style="italic">α</text>
<text transform="translate(476.60 337.90) scale(1.250 1.000)" font-size="17.00" font-style="italic">τ</text>
<text transform="translate(485.30 337.90) scale(1.220 1.000)" font-size="17.00">=</text>
<text transform="translate(498.60 337.90)" font-size="17.00">1</text>
</svg>
</body></html>
